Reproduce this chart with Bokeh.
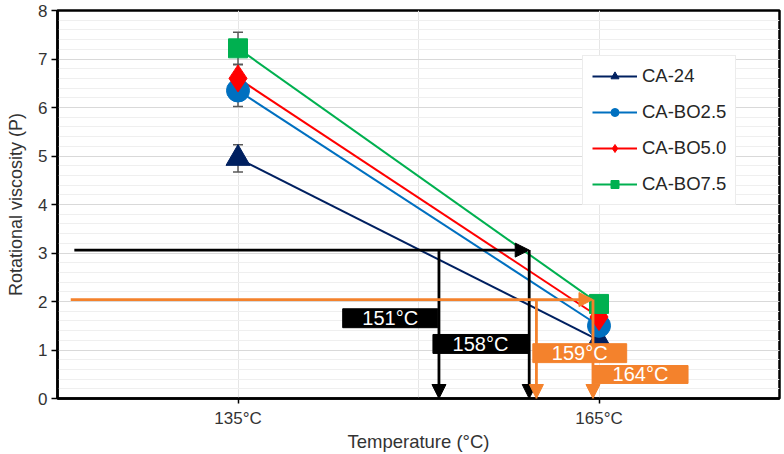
from bokeh.plotting import figure
from bokeh.models import (ColumnDataSource, FixedTicker, SingleIntervalTicker, Legend,
                          LegendItem, Arrow, NormalHead)
from bokeh.core.properties import value
from bokeh.embed import file_html
from bokeh.resources import INLINE

# ---------------- data ----------------
temps = [135, 165]
tick_labels = ["135°C", "165°C"]
series_names = ["CA-24", "CA-BO2.5", "CA-BO5.0", "CA-BO7.5"]
ca24 = [4.95, 1.2]
bo25 = [6.35, 1.5]
bo50 = [6.6, 1.68]
bo75 = [7.22, 1.95]
err_ca24 = [0.28, 0.05]
err_bo25 = [0.33, 0.05]
err_bo50 = [0.28, 0.05]
err_bo75 = [0.33, 0.05]

# threshold annotations (temperature, viscosity)
black_level = 3.06
black_start = 121.4
black_temps = [151.7, 159.2]
orange_level = 2.04
orange_start = 121.1
orange_temps = [159.8, 164.5]
box_labels = ["151°C", "158°C", "159°C", "164°C"]
box_left = [143.7, 151.2, 159.5, 164.5]
box_right = [151.6, 159.1, 167.3, 172.4]
box_top = [1.85, 1.32, 1.13, 0.68]
box_bottom = [1.46, 0.93, 0.74, 0.31]

# ---------------- styles ----------------
colors = ["#002060", "#0070C0", "#FF0000", "#00B050"]
markers = ["triangle", "circle", "diamond", "square"]
sizes = [24, 23, 27, 19]
legend_sizes = [10, 10, 11, 9]
BLACK = "#000000"
ORANGE = "#F4822C"
FONT = "Liberation Sans"

p = figure(width=784, height=454, x_range=(120, 180), y_range=(0, 8),
           output_backend="svg", toolbar_location=None,
           min_border_left=57, min_border_right=5, min_border_top=10, min_border_bottom=50)

p.outline_line_color = "black"
p.outline_line_width = 2.5
p.background_fill_color = "white"
p.border_fill_color = "white"

# axes
p.xaxis.ticker = FixedTicker(ticks=temps)
p.xaxis.major_label_overrides = {t: l for t, l in zip(temps, tick_labels)}
p.yaxis.ticker = SingleIntervalTicker(interval=1, num_minor_ticks=5)
for ax in (p.xaxis[0], p.yaxis[0]):
    ax.axis_line_color = "black"
    ax.axis_line_width = 2.5
    ax.major_tick_line_color = "black"
    ax.major_tick_line_width = 1.5
    ax.major_tick_in = 0
    ax.minor_tick_line_color = None
    ax.major_label_text_font = FONT
    ax.major_label_text_font_size = "17px"
    ax.major_label_text_color = "#333333"
    ax.axis_label_text_font = FONT
    ax.axis_label_text_font_style = "normal"
    ax.axis_label_text_color = "#333333"
p.xaxis.axis_label_text_font_size = "18.5px"
p.yaxis.axis_label_text_font_size = "18px"
p.xaxis.major_tick_out = 5
p.yaxis.major_tick_out = 6
p.xaxis.major_label_standoff = 5
p.yaxis.major_label_standoff = 4
p.xaxis.axis_label = "Temperature (°C)"
p.yaxis.axis_label = "Rotational viscosity (P)"
p.xaxis.axis_label_standoff = 0
p.yaxis.axis_label_standoff = 9

# grid
p.xgrid.ticker = FixedTicker(ticks=[135, 150, 165])
p.xgrid.grid_line_color = "#e6e6e6"
p.xgrid.grid_line_width = 1
p.ygrid.grid_line_color = "#d9d9d9"
p.ygrid.grid_line_width = 1
p.ygrid.minor_grid_line_color = "#efefef"
p.ygrid.minor_grid_line_width = 1

series = [ca24, bo25, bo50, bo75]
errors = [err_ca24, err_bo25, err_bo50, err_bo75]

items = []
line_rs = []
for name, vals, errs, c, m, s, ls in zip(series_names, series, errors, colors, markers, sizes, legend_sizes):
    src = ColumnDataSource(dict(x=temps, y=vals,
                                lo=[v - e for v, e in zip(vals, errs)],
                                hi=[v + e for v, e in zip(vals, errs)]))
    lr = p.line("x", "y", source=src, line_color=c, line_width=2)
    # error bars
    p.segment(x0="x", y0="lo", x1="x", y1="hi", source=src, line_color="#595959", line_width=1.5)
    p.scatter("x", "lo", source=src, marker="dash", size=10, line_color="#595959", line_width=1.5)
    p.scatter("x", "hi", source=src, marker="dash", size=10, line_color="#595959", line_width=1.5)
    # small marker for the legend (hidden beneath the big one)
    small = p.scatter("x", "y", source=src, marker=m, size=ls, fill_color=c, line_color=c)
    line_rs.append((name, lr, small, src, c, m, s))

for name, lr, small, src, c, m, s in line_rs:
    p.scatter("x", "y", source=src, marker=m, size=s, fill_color=c, line_color=c)
    items.append(LegendItem(label=name, renderers=[lr, small]))

# threshold arrows
def arrow(x0, y0, x1, y1, col):
    p.add_layout(Arrow(x_start=x0, y_start=y0, x_end=x1, y_end=y1,
                       line_color=col, line_width=2.8,
                       end=NormalHead(size=14, fill_color=col, line_color=col, line_width=1)))

arrow(black_start, black_level, black_temps[1], black_level, BLACK)
for t in black_temps:
    arrow(t, black_level, t, 0, BLACK)
arrow(orange_start, orange_level, orange_temps[1], orange_level, ORANGE)
for t in orange_temps:
    arrow(t, orange_level, t, 0, ORANGE)

# labels
box_src = ColumnDataSource(dict(
    left=box_left, right=box_right, top=box_top, bottom=box_bottom,
    cx=[(a + b) / 2 for a, b in zip(box_left, box_right)],
    cy=[(a + b) / 2 for a, b in zip(box_top, box_bottom)],
    text=box_labels, fill=[BLACK, BLACK, ORANGE, ORANGE]))
p.quad(left="left", right="right", top="top", bottom="bottom", source=box_src,
       fill_color="fill", line_color="fill", level="overlay")
p.text(x="cx", y="cy", text="text", source=box_src, text_color="white",
       text_font=value(FONT), text_font_size="20px", text_align="center",
       text_baseline="middle", level="overlay")

legend = Legend(items=items, location=(525, 193))
legend.label_text_font = FONT
legend.label_text_font_size = "18.5px"
legend.label_text_color = "#262626"
legend.border_line_color = "#d9d9d9"
legend.border_line_width = 1
legend.background_fill_alpha = 1
legend.glyph_width = 45
legend.glyph_height = 20
legend.label_height = 20
legend.label_standoff = 5
legend.spacing = 14
legend.padding = 9
legend.margin = 0
p.add_layout(legend, "center")

open("out.html", "w").write(file_html(p, INLINE))
